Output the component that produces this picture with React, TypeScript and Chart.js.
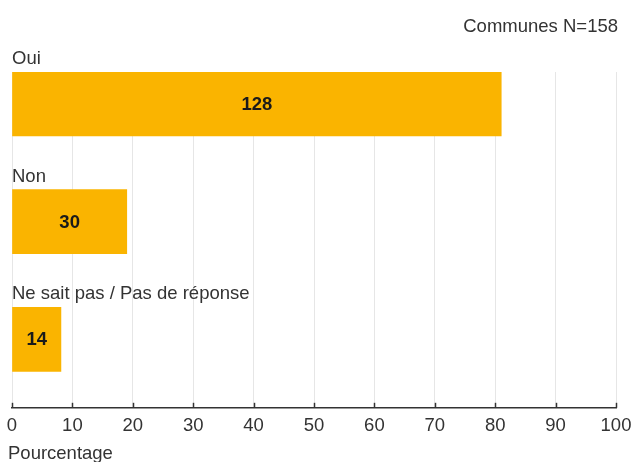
import React, { useEffect, useRef } from "react";
import { Chart, registerables } from "chart.js";

Chart.register(...registerables);

const categories: string[] = ["Oui", "Non", "Ne sait pas / Pas de réponse"];
const percentages: number[] = [81.0, 19.0, 8.1];
const counts: number[] = [128, 30, 14];
const xTicks: number[] = [0, 10, 20, 30, 40, 50, 60, 70, 80, 90, 100];
const headerText = "Communes N=158";
const axisTitle = "Pourcentage";

const FONT = "'Liberation Sans', Arial, sans-serif";
const TEXT = "#333333";
const BAR = "#FAB400";
const FS = 18.5;

export default function App() {
  const ref = useRef<HTMLCanvasElement | null>(null);

  useEffect(() => {
    const canvas = ref.current;
    if (!canvas) return;

    const overlay = {
      id: "overlay",
      afterDatasetsDraw(chart: any) {
        const ctx = chart.ctx;
        const meta = chart.getDatasetMeta(0);
        const xs = chart.scales.x;
        const area = chart.chartArea;
        ctx.save();
        meta.data.forEach((bar: any, i: number) => {
          const props = bar.getProps(["x", "y", "base", "height"], true);
          const top = props.y - props.height / 2;
          ctx.fillStyle = TEXT;
          ctx.font = `${FS}px ${FONT}`;
          ctx.textAlign = "left";
          ctx.textBaseline = "alphabetic";
          ctx.fillText(categories[i], xs.getPixelForValue(0), top - 8);
          ctx.font = `bold ${FS}px ${FONT}`;
          ctx.fillStyle = "#1a1a1a";
          ctx.textAlign = "center";
          ctx.textBaseline = "middle";
          ctx.fillText(String(counts[i]), (props.x + props.base) / 2, props.y + 1);
        });
        ctx.strokeStyle = "#333333";
        ctx.lineWidth = 1.5;
        xTicks.forEach((t) => {
          const px = Math.round(xs.getPixelForValue(t)) + 0.5;
          ctx.beginPath();
          ctx.moveTo(px, area.bottom - 5);
          ctx.lineTo(px, area.bottom);
          ctx.stroke();
        });
        ctx.fillStyle = TEXT;
        ctx.font = `${FS}px ${FONT}`;
        ctx.textAlign = "right";
        ctx.textBaseline = "alphabetic";
        ctx.fillText(headerText, 618, 32);
        ctx.textAlign = "left";
        ctx.fillText(axisTitle, 8, 459);
        ctx.restore();
      },
    };

    const chart = new Chart(canvas, {
      type: "bar",
      data: {
        datasets: [
          {
            data: percentages.map((v, i) => ({ x: v, y: i })),
            backgroundColor: BAR,
            borderWidth: 0,
            barThickness: 64,
          } as any,
        ],
      },
      options: {
        indexAxis: "y",
        animation: false,
        responsive: false,
        layout: { padding: { left: 12, right: 18, top: 72, bottom: 18 } },
        plugins: {
          legend: { display: false },
          tooltip: { enabled: false },
        },
        scales: {
          x: {
            type: "linear",
            min: 0,
            max: 100,
            afterBuildTicks: (scale: any) => {
              scale.ticks = xTicks.map((v) => ({ value: v }));
            },
            afterFit: (scale: any) => {
              scale.paddingLeft = 0;
              scale.paddingRight = 0;
            },
            grid: { color: "#e6e6e6", lineWidth: 1, drawTicks: false },
            border: { display: true, color: "#333333", width: 1.5 },
            ticks: {
              padding: 7,
              color: TEXT,
              font: { family: FONT, size: FS },
              maxRotation: 0,
            },
          },
          y: {
            type: "linear",
            display: false,
            reverse: true,
            offset: false,
            grace: 0,
            min: -0.2718,
            max: 2.5817,
          },
        },
      } as any,
      plugins: [overlay],
    });

    return () => chart.destroy();
  }, []);

  return (
    <div style={{ position: "fixed", left: 0, top: 0, width: 634, height: 462, background: "#fff" }}>
      <canvas ref={ref} width={634} height={462} />
    </div>
  );
}
